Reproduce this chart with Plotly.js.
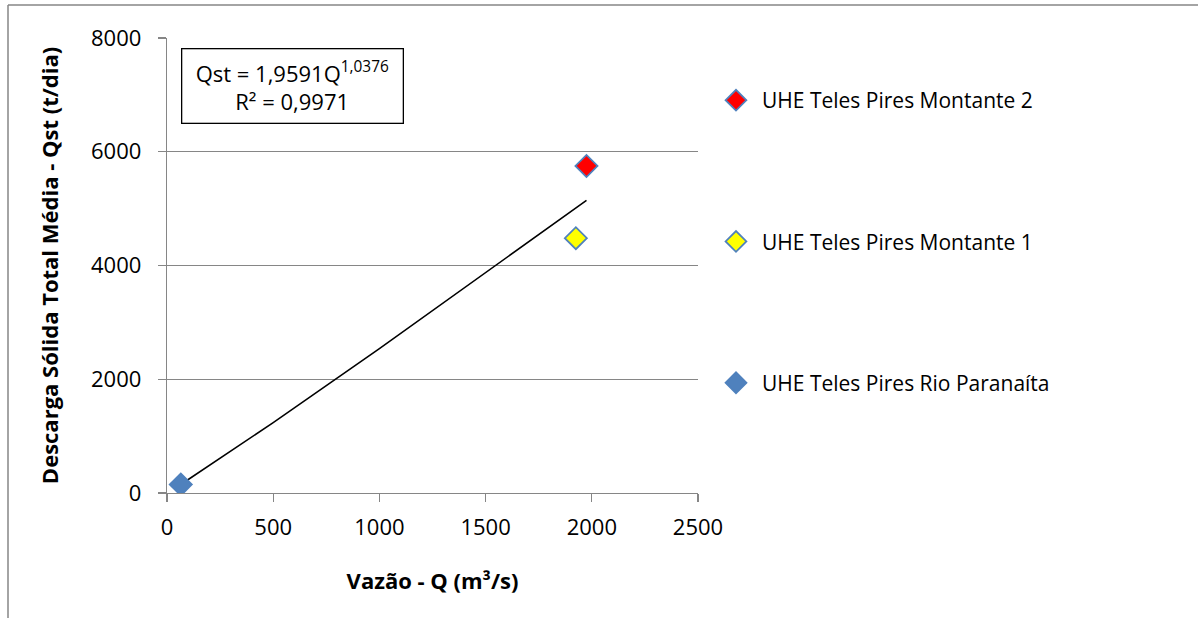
<!DOCTYPE html>
<html><head><meta charset="utf-8">
<script src="https://cdn.plot.ly/plotly-3.0.1.min.js"></script>
<style>html,body{margin:0;padding:0;background:#fff}#c{width:1198px;height:618px}</style>
</head><body><div id="c"></div>
<script>
const seriesNames = ["UHE Teles Pires Montante 2", "UHE Teles Pires Montante 1", "UHE Teles Pires Rio Paranaíta"];
const seriesQ = [1975, 1925, 65];
const seriesQst = [5750, 4480, 150];
const seriesFill = ["#FF0000", "#FFFF00", "#4F81BD"];
const trendQ = [65, 500, 1000, 1500, 1975];
const trendQst = [149, 1238, 2539, 3870, 5145];
const xTicks = [0, 500, 1000, 1500, 2000, 2500];
const yTicks = [0, 2000, 4000, 6000, 8000];

const FONT = "Open Sans, Liberation Sans, sans-serif";
const traces = [];
traces.push({x: trendQ, y: trendQst, mode: "lines", line: {color: "#000", width: 1.6}, showlegend: false, hoverinfo: "skip"});
for (let i = 0; i < seriesNames.length; i++) {
  traces.push({
    x: [seriesQ[i]], y: [seriesQst[i]], mode: "markers", name: seriesNames[i],
    legendgroup: "g" + i,
    marker: {symbol: "diamond", size: 17, color: seriesFill[i], line: {color: "#4F81BD", width: 1.8}}
  });
}

const L = 167, R = 698, T = 38, B = 493;
const pw = R - L, ph = B - T;
const px = v => (v - L) / pw;
const py = v => (B - v) / ph;

const layout = {
  width: 1198, height: 618,
  margin: {l: L, r: 1198 - R, t: T, b: 618 - B, pad: 0},
  paper_bgcolor: "#fff", plot_bgcolor: "#fff",
  font: {family: FONT, size: 16, color: "#000"},
  xaxis: {
    range: [0, 2500], tickvals: xTicks, ticktext: xTicks.map(String),
    showgrid: false, zeroline: false, showline: true, linecolor: "#868686", linewidth: 1.3,
    ticks: "outside", ticklen: 8, tickcolor: "#868686", tickwidth: 1.3,
    ticklabelstandoff: 6,
    tickfont: {size: 22, family: FONT},
    title: {text: "<b>Vazão - Q (m³/s)</b>", font: {size: 22, family: FONT}, standoff: 34}
  },
  yaxis: {
    range: [0, 8000], tickvals: yTicks, ticktext: yTicks.map(String),
    showgrid: true, gridcolor: "#868686", gridwidth: 1.3, zeroline: false,
    showline: true, linecolor: "#868686", linewidth: 1.3,
    ticks: "outside", ticklen: 8, tickcolor: "#868686", tickwidth: 1.3,
    ticklabelstandoff: 12,
    tickfont: {size: 22, family: FONT},
    title: {text: "<b>Descarga Sólida Total Média - Qst (t/dia)</b>", font: {size: 22, family: FONT}, standoff: 26}
  },
  showlegend: true,
  legend: {
    x: px(710), y: py(80), xanchor: "left", yanchor: "top",
    font: {size: 21, family: FONT}, tracegroupgap: 111, itemwidth: 42,
    bgcolor: "rgba(0,0,0,0)"
  },
  annotations: [{
    xref: "paper", yref: "paper", x: px(292), y: py(86.5), xanchor: "center", yanchor: "middle",
    text: "Qst = 1,9591Q<sup>1,0376</sup><br>R² = 0,9971", showarrow: false,
    font: {size: 22, family: FONT, color: "#000"}, align: "center",
    bordercolor: "#000", borderwidth: 1.3, borderpad: 7, bgcolor: "#fff", width: 206
  }],
  shapes: [
    {type: "line", xref: "paper", yref: "paper", x0: px(8), x1: px(1200), y0: py(5), y1: py(5), line: {color: "#868686", width: 1.5}},
    {type: "line", xref: "paper", yref: "paper", x0: px(8), x1: px(8), y0: py(5), y1: py(620), line: {color: "#868686", width: 1.5}}
  ]
};
Plotly.newPlot("c", traces, layout, {displayModeBar: false, staticPlot: true});
</script></body></html>
